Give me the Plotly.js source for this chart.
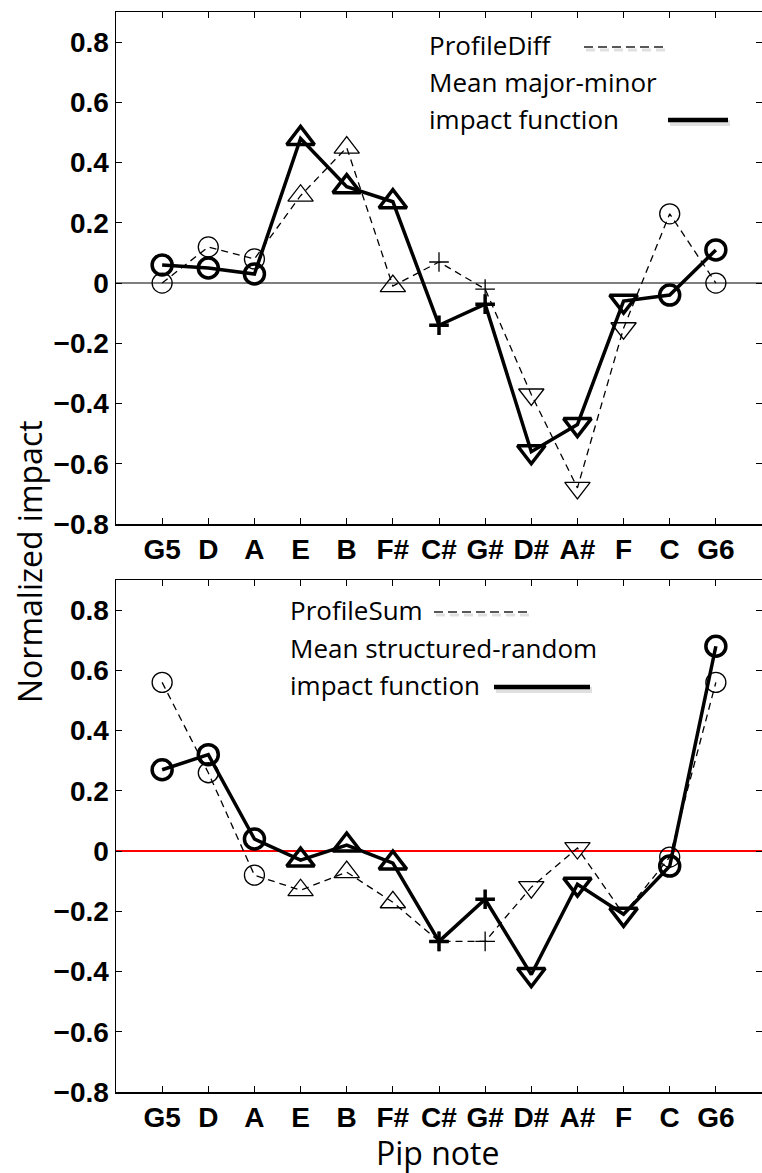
<!DOCTYPE html>
<html>
<head>
<meta charset="utf-8">
<script src="https://cdn.plot.ly/plotly-3.0.1.min.js"></script>
<style>
  html, body { margin: 0; padding: 0; background: #fff; }
  #chart { width: 762px; height: 1173px; }
</style>
</head>
<body>
<div id="chart"></div>
<script>
// Pip notes along the circle of fifths
const notes = ["G5", "D", "A", "E", "B", "F#", "C#", "G#", "D#", "A#", "F", "C", "G6"];
const notePos = [1, 2, 3, 4, 5, 6, 7, 8, 9, 10, 11, 12, 13];

// Marker shape used for each note
const noteSymbols = ["circle", "circle", "circle", "triangle-up", "triangle-up", "triangle-up",
  "cross-thin", "cross-thin", "triangle-down", "triangle-down", "triangle-down", "circle", "circle"];

// Upper panel: major vs. minor
const profileDiff = [0.00, 0.12, 0.08, 0.29, 0.45, -0.01, 0.07, -0.02, -0.37, -0.68, -0.15, 0.23, 0.00];
const meanMajorMinor = [0.06, 0.05, 0.03, 0.48, 0.32, 0.27, -0.14, -0.07, -0.56, -0.47, -0.06, -0.04, 0.11];

// Lower panel: structured vs. random
const profileSum = [0.56, 0.26, -0.08, -0.13, -0.07, -0.17, -0.30, -0.30, -0.12, 0.01, -0.21, -0.02, 0.56];
const meanStructuredRandom = [0.27, 0.32, 0.04, -0.03, 0.02, -0.04, -0.30, -0.16, -0.41, -0.11, -0.21, -0.05, 0.68];

// Value axis ticks
const yTickVals = [-0.8, -0.6, -0.4, -0.2, 0, 0.2, 0.4, 0.6, 0.8];
const yTickText = ["\u22120.8", "\u22120.6", "\u22120.4", "\u22120.2", "0", "0.2", "0.4", "0.6", "0.8"];

// Page geometry (pixels)
const W = 762, H = 1173;
const M = { l: 116, r: 0, t: 12, b: 81 };
const plotW = W - M.l - M.r, plotH = H - M.t - M.b;
const px = x => (x - M.l) / plotW;
const py = y => (H - M.b - y) / plotH;

const topDomain = [py(524), 1];
const botDomain = [0, py(580)];

const tickFont = { family: "Liberation Sans, Arial, sans-serif", size: 28, color: "#000", weight: "bold" };
const textFont = { family: "Open Sans, sans-serif", size: 26, color: "#000" };
const titleFont = { family: "Open Sans, sans-serif", size: 32, color: "#000" };

function openSymbols() { return noteSymbols.map(s => s + "-open"); }
function sizes(big) {
  return noteSymbols.map(s => s === "cross-thin" ? 14 : (s === "circle" ? 20 : (big ? 24 : 22)));
}

function profileTrace(y, xa, ya) {
  return {
    x: notePos, y: y, xaxis: xa, yaxis: ya, type: "scatter", mode: "lines+markers",
    line: { color: "#000", width: 1.3, dash: "7px,5px" },
    marker: { symbol: openSymbols(), size: sizes(false), opacity: 1, color: "#000", line: { color: "#000", width: 1.3 } },
    showlegend: false, hoverinfo: "skip"
  };
}
function meanTrace(y, xa, ya) {
  return {
    x: notePos, y: y, xaxis: xa, yaxis: ya, type: "scatter", mode: "lines+markers",
    line: { color: "#000", width: 3.5 },
    marker: { symbol: openSymbols(), size: sizes(true), opacity: 1, color: "#000", line: { color: "#000", width: 3.5 } },
    showlegend: false, hoverinfo: "skip"
  };
}

const traces = [
  profileTrace(profileDiff, "x", "y"),
  meanTrace(meanMajorMinor, "x", "y"),
  profileTrace(profileSum, "x2", "y2"),
  meanTrace(meanStructuredRandom, "x2", "y2")
];

function xAxis(anchor) {
  return {
    anchor: anchor, range: [0, 14], tickmode: "array", tickvals: notePos, ticktext: notes,
    ticks: "inside", ticklen: 6, tickwidth: 1, tickcolor: "#000",
    showline: true, linecolor: "#000", linewidth: 1.5, mirror: "allticks",
    showgrid: false, zeroline: false, tickfont: tickFont, fixedrange: true
  };
}
function yAxis(anchor, domain, zeroColor, zeroWidth) {
  return {
    anchor: anchor, domain: domain, range: [-0.8, 0.9], tickmode: "array",
    tickvals: yTickVals, ticktext: yTickText,
    ticks: "inside", ticklen: 6, tickwidth: 1, tickcolor: "#000",
    showline: true, linecolor: "#000", linewidth: 1.5, mirror: "allticks",
    showgrid: false, zeroline: true, zerolinecolor: zeroColor, zerolinewidth: zeroWidth,
    tickfont: tickFont, fixedrange: true
  };
}

// Key lines (dashed profile, solid mean) with a soft shadow
function keyLine(x0, x1, y, dashed) {
  const shapes = [];
  shapes.push({ type: "line", xref: "paper", yref: "paper", x0: px(x0 + 2), x1: px(x1 + 2), y0: py(y + 3), y1: py(y + 3),
    line: { color: "rgba(0,0,0,0.12)", width: dashed ? 3 : 6, dash: dashed ? "9px,5px" : "solid" } });
  shapes.push({ type: "line", xref: "paper", yref: "paper", x0: px(x0), x1: px(x1), y0: py(y), y1: py(y),
    line: { color: dashed ? "#222" : "#000", width: dashed ? 1.6 : 4.5, dash: dashed ? "9px,5px" : "solid" } });
  return shapes;
}
function keyText(text, x, y) {
  return { text: text, xref: "paper", yref: "paper", x: px(x), y: py(y), xanchor: "left", yanchor: "middle",
    showarrow: false, font: textFont };
}

const shapes = [].concat(
  keyLine(584, 667, 47, true),
  keyLine(668, 728, 120, false),
  keyLine(434, 530, 612, true),
  keyLine(494, 590, 687, false)
);

const annotations = [
  keyText("ProfileDiff", 427, 45),
  keyText("Mean major-minor", 427, 82),
  keyText("impact function", 427, 119),
  keyText("ProfileSum", 288, 610),
  keyText("Mean structured-random", 288, 648),
  keyText("impact function", 288, 685),
  { text: "Normalized impact", xref: "paper", yref: "paper", x: px(29), y: py(562), xanchor: "center", yanchor: "middle",
    textangle: -90, showarrow: false, font: titleFont },
  { text: "Pip note", xref: "paper", yref: "paper", x: px(437), y: py(1152), xanchor: "center", yanchor: "middle",
    showarrow: false, font: titleFont }
];

const layout = {
  width: W, height: H, margin: M,
  paper_bgcolor: "#fff", plot_bgcolor: "#fff",
  xaxis: xAxis("y"), yaxis: yAxis("x", topDomain, "#7f7f7f", 1.5),
  xaxis2: xAxis("y2"), yaxis2: yAxis("x2", botDomain, "#ff0000", 1.2),
  shapes: shapes, annotations: annotations, showlegend: false
};

Plotly.newPlot("chart", traces, layout, { staticPlot: true, displayModeBar: false });
</script>
</body>
</html>
